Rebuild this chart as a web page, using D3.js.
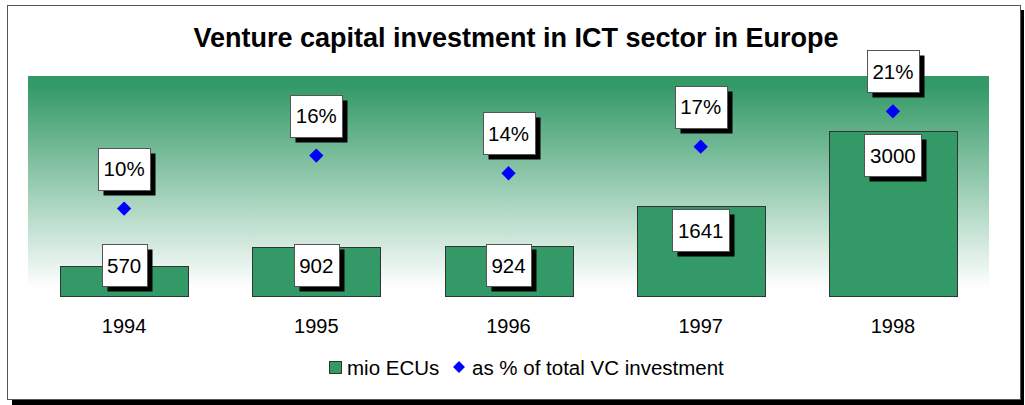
<!DOCTYPE html>
<html>
<head>
<meta charset="utf-8">
<script src="https://cdn.jsdelivr.net/npm/d3@7"></script>
<style>
  body { margin: 0; background: #fff; }
  svg { display: block; font-family: 'Liberation Sans', Arial, sans-serif; }
</style>
</head>
<body>
<div id="chart-area"></div>
<script>
// Data
const years = ['1994', '1995', '1996', '1997', '1998'];
const mioEcus = [570, 902, 924, 1641, 3000];
const vcShare = [10, 16, 14, 17, 21];
const seriesNames = ['mio ECUs', 'as % of total VC investment'];

const width = 1025;
const height = 405;
const plot = { left: 28, right: 989, top: 76, bottom: 297 };

const green = '#339966';

const svg = d3.select('#chart-area')
    .append('svg')
    .attr('width', width)
    .attr('height', height);

const defs = svg.append('defs');
const grad = defs.append('linearGradient')
    .attr('id', 'bg-grad')
    .attr('x1', 0).attr('y1', 0)
    .attr('x2', 0).attr('y2', 1);
grad.append('stop').attr('offset', '4%').attr('stop-color', green);
grad.append('stop').attr('offset', '96%').attr('stop-color', '#ffffff');

// Outer frame with shadow
svg.append('rect')
    .attr('x', 12).attr('y', 10)
    .attr('width', 1012).attr('height', 395)
    .attr('fill', '#000');
svg.append('rect')
    .attr('x', 7.5).attr('y', 5.5)
    .attr('width', 1013).attr('height', 394)
    .attr('fill', '#fff')
    .attr('stroke', '#555')
    .attr('stroke-width', 1);

// Title
svg.append('text')
    .attr('x', 516)
    .attr('y', 47)
    .attr('text-anchor', 'middle')
    .attr('font-size', '27px')
    .attr('font-weight', 'bold')
    .text('Venture capital investment in ICT sector in Europe');

// Plot background
svg.append('rect')
    .attr('x', plot.left)
    .attr('y', plot.top)
    .attr('width', plot.right - plot.left)
    .attr('height', plot.bottom - plot.top)
    .attr('fill', 'url(#bg-grad)');

// Scales
const x = d3.scaleBand()
    .domain(years)
    .range([plot.left, plot.right])
    .paddingInner(0.335)
    .paddingOuter(0.1675);

const y = d3.scaleLinear()
    .domain([0, 4000])
    .range([plot.bottom, plot.top]);

const y2 = d3.scaleLinear()
    .domain([0, 25])
    .range([plot.bottom, plot.top]);

// Category axis (no line, no ticks)
const xAxis = svg.append('g')
    .attr('transform', `translate(0, ${plot.bottom})`)
    .call(d3.axisBottom(x).tickSize(0).tickPadding(22));
xAxis.select('.domain').remove();
xAxis.selectAll('text')
    .attr('font-size', '20px')
    .attr('font-family', "'Liberation Sans', Arial, sans-serif")
    .attr('fill', '#000');

// Bars
svg.append('g').selectAll('rect')
    .data(years)
    .join('rect')
    .attr('x', (d) => Math.round(x(d)) + 0.5)
    .attr('y', (d, i) => Math.round(y(mioEcus[i])) + 0.5)
    .attr('width', Math.round(x.bandwidth()))
    .attr('height', (d, i) => Math.round(plot.bottom - y(mioEcus[i])) - 1)
    .attr('fill', green)
    .attr('stroke', '#333')
    .attr('stroke-width', 1);

// Diamonds
const diamond = d3.symbol().type(d3.symbolDiamond2).size(130);
svg.append('g').selectAll('path')
    .data(years)
    .join('path')
    .attr('transform', (d, i) => `translate(${x(d) + x.bandwidth() / 2}, ${y2(vcShare[i])})`)
    .attr('d', diamond)
    .attr('fill', '#0000ff');

// Label boxes
function labelBox(cx, cy, txt) {
    const g = svg.append('g');
    const t = g.append('text')
        .attr('x', cx)
        .attr('y', cy + 7.5)
        .attr('text-anchor', 'middle')
        .attr('font-size', '20.5px')
        .text(txt);
    const w = Math.round(t.node().getComputedTextLength() + 11);
    const h = 42;
    const bx = Math.round(cx - w / 2) + 0.5;
    const by = Math.round(cy - h / 2) + 0.5;
    g.insert('rect', 'text')
        .attr('x', bx + 5).attr('y', by + 5)
        .attr('width', w).attr('height', h)
        .attr('fill', '#000');
    g.insert('rect', 'text')
        .attr('x', bx).attr('y', by)
        .attr('width', w).attr('height', h)
        .attr('fill', '#fff')
        .attr('stroke', '#555')
        .attr('stroke-width', 1);
}

years.forEach((yr, i) => {
    const cx = x(yr) + x.bandwidth() / 2;
    labelBox(cx, Math.min(y(mioEcus[i]) + 24, plot.bottom - 32), String(mioEcus[i]));
    labelBox(cx, y2(vcShare[i]) - 40, vcShare[i] + '%');
});

// Legend
const legend = svg.append('g').attr('font-size', '20.5px');
legend.append('rect')
    .attr('x', 329.5).attr('y', 361.5)
    .attr('width', 12).attr('height', 12)
    .attr('fill', green)
    .attr('stroke', '#333');
legend.append('text')
    .attr('x', 347).attr('y', 375)
    .text(seriesNames[0]);
legend.append('path')
    .attr('transform', 'translate(459, 367)')
    .attr('d', d3.symbol().type(d3.symbolDiamond2).size(90))
    .attr('fill', '#0000ff');
legend.append('text')
    .attr('x', 472).attr('y', 375)
    .text(seriesNames[1]);
</script>
</body>
</html>
